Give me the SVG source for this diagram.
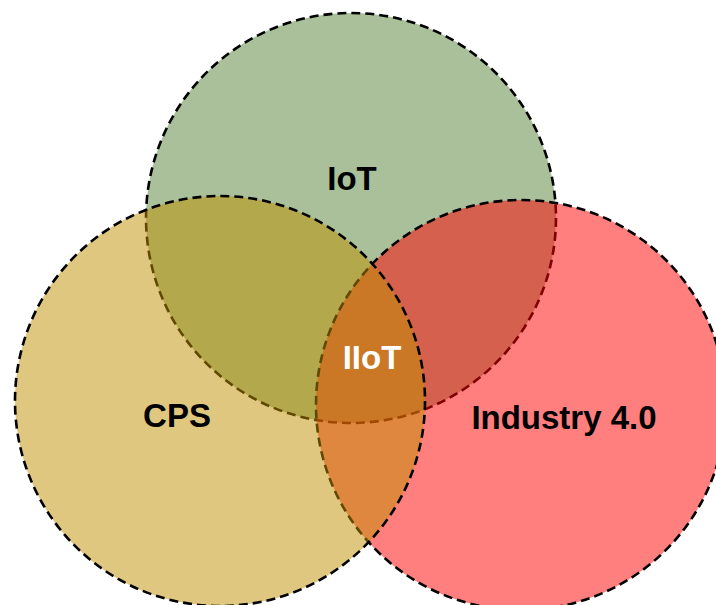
<svg xmlns="http://www.w3.org/2000/svg" width="716" height="605" viewBox="0 0 716 605">
<style>
.c{stroke:#000;stroke-width:2.6;stroke-dasharray:9 5}
.t{font-family:"Liberation Sans",Arial,sans-serif;font-weight:bold;font-size:33px;text-anchor:middle}
</style>
<rect width="716" height="605" fill="#fff"/>
<g id="iot"><circle class="c" cx="351" cy="218" r="205" fill="#548235" fill-opacity="0.5"/></g>
<g id="industry"><circle class="c" cx="521" cy="405" r="205" fill="#FF0000" fill-opacity="0.5"/></g>
<g id="cps"><circle class="c" cx="220" cy="401" r="205" fill="#BF8F00" fill-opacity="0.5"/></g>
<g id="labels">
<text class="t" x="352" y="190">IoT</text>
<text class="t" x="177" y="427">CPS</text>
<text class="t" x="564" y="429">Industry 4.0</text>
<text class="t" x="372" y="369" fill="#fff">IIoT</text>
</g>
</svg>
